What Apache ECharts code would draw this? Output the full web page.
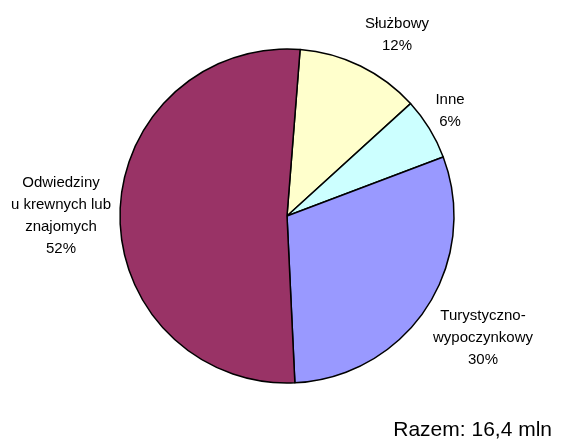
<!DOCTYPE html>
<html>
<head>
<meta charset="utf-8">
<script src="https://cdn.jsdelivr.net/npm/echarts@6/dist/echarts.min.js"></script>
<style>
  html, body { margin: 0; padding: 0; background: #fff; }
  #chart { width: 561px; height: 447px; }
</style>
</head>
<body>
<div id="chart"></div>
<script>
// udział wyjazdów wg celu (%)
const categories = ["Służbowy", "Inne", "Turystyczno-\nwypoczynkowy", "Odwiedziny\nu krewnych lub\nznajomych"];
const values = [12, 6, 30, 52];
const colors = ["#ffffcc", "#ccffff", "#9999ff", "#993366"];
const totalText = "Razem: 16,4 mln";

// label centres (px) for each slice
const labelXY = [[397, 35], [450, 111], [483, 338], [61, 216]];

const chart = echarts.init(document.getElementById("chart"));

chart.setOption({
  backgroundColor: "#fff",
  animation: false,
  textStyle: { fontFamily: "Liberation Sans, Arial, sans-serif" },
  title: {
    text: totalText,
    right: 4,
    top: 415,
    textStyle: { fontSize: 21, fontWeight: "normal", color: "#000", fontFamily: "Liberation Sans, Arial, sans-serif" }
  },
  series: [
    {
      type: "pie",
      center: [287, 216],
      radius: 167,
      startAngle: 85.5,
      clockwise: true,
      data: categories.map((name, i) => ({
        name: name,
        value: values[i],
        itemStyle: { color: colors[i] }
      })),
      itemStyle: { borderColor: "#000", borderWidth: 1.5 },
      emphasis: { disabled: true },
      label: {
        show: true,
        position: "outside",
        alignTo: "none",
        overflow: "none",
        color: "#000",
        fontSize: 15,
        lineHeight: 22,
        align: "center",
        formatter: p => p.name + "\n" + p.value + "%"
      },
      labelLine: { show: false },
      labelLayout: p => ({
        x: labelXY[p.dataIndex][0],
        y: labelXY[p.dataIndex][1],
        align: "center",
        verticalAlign: "middle",
        width: 200
      })
    }
  ]
});
</script>
</body>
</html>
